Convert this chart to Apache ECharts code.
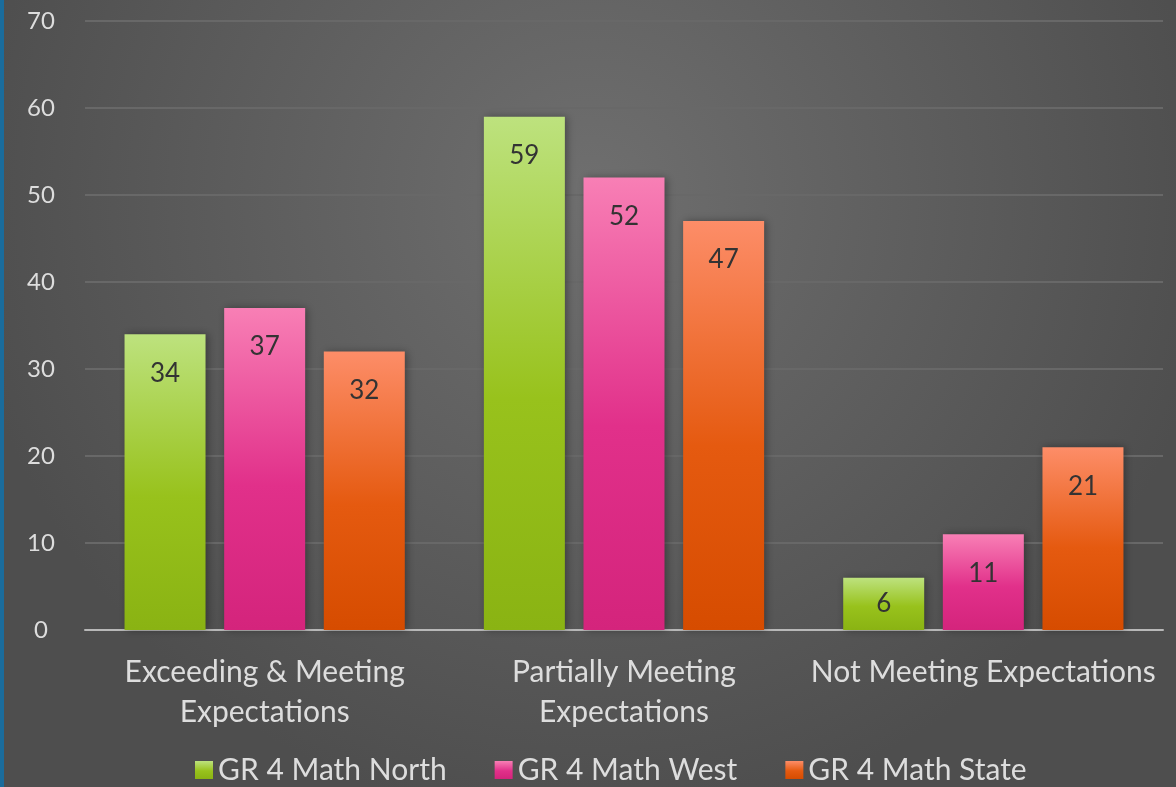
<!DOCTYPE html>
<html>
<head>
<meta charset="utf-8">
<script src="https://cdn.jsdelivr.net/npm/echarts@6/dist/echarts.min.js"></script>
<style>
  html, body { margin: 0; padding: 0; }
  #chart { width: 1176px; height: 787px; border-left: 4px solid #1a6c9c; box-sizing: border-box; }
</style>
</head>
<body>
<div id="chart"></div>
<script>
// 类别和数值
let categories = ['Exceeding & Meeting\nExpectations', 'Partially Meeting\nExpectations', 'Not Meeting Expectations'];
let northValues = [34, 59, 6];
let westValues = [37, 52, 11];
let stateValues = [32, 47, 21];
let seriesNames = ['GR 4 Math North', 'GR 4 Math West', 'GR 4 Math State'];
let yTicks = [0, 10, 20, 30, 40, 50, 60, 70];

function grad(top, bottom) {
    return new echarts.graphic.LinearGradient(0, 0, 0, 1, [
        { offset: 0, color: top },
        { offset: 0.55, color: bottom[0] },
        { offset: 1, color: bottom[1] }
    ]);
}

let colors = [
    grad('#bde27e', ['#98c21c', '#8ab313']),
    grad('#f87fb5', ['#e1308a', '#d4247c']),
    grad('#fd8d68', ['#e55a10', '#d64c00'])
];

// 柱子上的数值标签,矮柱子放中间
function toItems(values) {
    return values.map(function (v) {
        if (v < 10) {
            return { value: v, label: { position: 'inside' } };
        }
        return v;
    });
}

function makeSeries(name, values, i) {
    return {
        name: name,
        type: 'bar',
        barWidth: 81,
        barGap: '23%',
        data: toItems(values),
        itemStyle: {
            color: colors[i],
            shadowColor: 'rgba(0,0,0,0.35)',
            shadowBlur: 8,
            shadowOffsetX: 2
        },
        label: {
            show: true,
            position: 'insideTop',
            distance: 26,
            color: '#333',
            fontSize: 26,
            fontFamily: 'Lato'
        }
    };
}

let myChart = echarts.init(document.getElementById('chart'));
let option = {
    backgroundColor: new echarts.graphic.RadialGradient(0.5, 0.25, 0.8, [
        { offset: 0, color: '#6f6f6f' },
        { offset: 1, color: '#4e4e4e' }
    ]),
    textStyle: { fontFamily: 'Lato' },
    legend: {
        bottom: -3,
        left: 186,
        icon: 'rect',
        itemWidth: 18,
        itemHeight: 18,
        itemGap: 48,
        textStyle: { color: '#dddddd', fontSize: 30, fontFamily: 'Lato' },
        data: seriesNames
    },
    grid: {
        left: 81,
        right: 13,
        top: 21,
        bottom: 157
    },
    xAxis: {
        type: 'category',
        data: categories,
        axisLine: { lineStyle: { color: '#b8b8b8', width: 2 } },
        axisTick: { show: false },
        axisLabel: {
            color: '#dddddd',
            fontSize: 30,
            lineHeight: 40,
            margin: 22,
            interval: 0
        }
    },
    yAxis: {
        type: 'value',
        min: yTicks[0],
        max: yTicks[yTicks.length - 1],
        interval: 10,
        axisLine: { show: false },
        axisTick: { show: false },
        splitLine: { lineStyle: { color: '#686868', width: 2 } },
        axisLabel: {
            color: '#dddddd',
            fontSize: 24,
            margin: 44,
            align: 'center'
        }
    },
    series: [
        makeSeries(seriesNames[0], northValues, 0),
        makeSeries(seriesNames[1], westValues, 1),
        makeSeries(seriesNames[2], stateValues, 2)
    ]
};
myChart.setOption(option);
</script>
</body>
</html>
